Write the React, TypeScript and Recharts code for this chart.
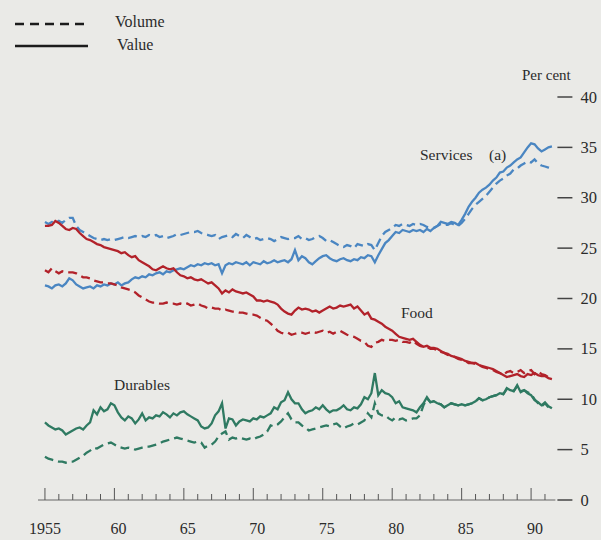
import React from 'react';
import { LineChart, Line, XAxis, YAxis } from 'recharts';

// quarterly shares of consumers' expenditure, 1955 Q1 onwards
const startYear = 1955;

const servicesValue = [
  21.3, 21.2, 21.0, 21.3, 21.4, 21.2, 21.5, 22.0, 21.8, 21.4, 21.2, 21.0,
  21.1, 21.2, 21.0, 21.3, 21.2, 21.4, 21.3, 21.5, 21.4, 21.6, 21.3, 21.5,
  21.6, 21.9, 22.1, 22.0, 22.2, 22.1, 22.4, 22.3, 22.5, 22.6, 22.4, 22.7,
  22.6, 22.8, 22.9, 23.0, 22.9, 23.1, 23.3, 23.2, 23.4, 23.3, 23.5, 23.4,
  23.5, 23.3, 23.4, 22.5, 23.3, 23.5, 23.4, 23.6, 23.5, 23.4, 23.6, 23.3,
  23.6, 23.5, 23.4, 23.7, 23.5, 23.6, 23.8, 23.6, 23.7, 23.8, 23.6, 23.9,
  24.8, 23.8, 24.2, 24.0, 23.6, 23.4, 23.7, 24.0, 24.2, 24.3, 24.0, 23.8,
  23.7, 23.9, 24.0, 23.8, 23.7, 23.9, 23.8, 24.1, 24.0, 24.3, 24.2, 23.6,
  24.3, 24.9, 25.5, 25.8, 26.2, 26.6, 26.5, 26.8, 26.7, 26.6, 26.8, 26.7,
  26.8, 26.6, 26.9, 26.7, 27.0, 27.2, 27.6, 27.5, 27.4, 27.6, 27.5, 27.3,
  27.8, 28.4, 29.1, 29.6, 30.0, 30.5, 30.8, 31.0, 31.3, 31.7, 32.0, 32.5,
  32.6, 33.0, 33.2, 33.5, 33.8, 34.0, 34.5, 35.0, 35.4, 35.3, 34.9, 34.6,
  34.8, 35.0, 35.1,
];

const servicesVolume = [
  27.6, 27.4, 27.6, 27.5, 27.7, 27.5, 27.8, 28.0, 28.0, 27.2, 26.8, 26.6,
  26.4, 26.2, 26.0, 25.9, 25.8, 25.9, 25.8, 25.9, 25.8, 25.9, 26.0, 26.1,
  26.0, 26.1, 26.2, 26.1, 26.2, 26.1, 26.3, 26.2, 26.3, 26.1, 26.2, 26.0,
  26.1, 26.2, 26.4, 26.3, 26.4, 26.5, 26.6, 26.6, 26.7, 26.5, 26.4, 26.3,
  26.2, 26.3, 25.9, 26.1, 26.2, 26.3, 26.1, 26.4, 26.2, 26.0, 26.3, 26.1,
  25.9, 26.0, 25.8, 25.9, 26.0, 25.9, 25.7, 25.9, 26.1, 26.0, 25.9, 26.0,
  26.0, 26.2, 25.9, 26.0, 25.8, 25.9, 26.1, 26.2, 26.0, 25.7, 25.8, 25.6,
  25.4, 25.2, 25.1, 25.3, 25.2, 25.0, 25.4, 25.3, 25.2, 25.4, 25.3, 24.8,
  25.5, 26.2, 26.6, 26.8, 27.0, 27.3, 27.2, 27.4, 27.3, 27.2, 27.4, 27.3,
  27.4, 27.3, 27.1, 27.0, 27.0, 27.2, 27.4, 27.3, 27.3, 27.5, 27.3, 27.2,
  27.5, 27.9, 28.4, 28.9, 29.3, 29.6, 29.9, 30.2, 30.6, 31.0, 31.4, 31.7,
  31.9, 32.2, 32.4, 32.8, 32.9, 33.2, 33.4, 33.6, 33.5, 33.8, 33.4, 33.2,
  33.1, 33.0, 32.9,
];

const foodValue = [
  27.2, 27.2, 27.3, 27.7, 27.5, 27.2, 26.9, 26.8, 27.0, 26.9, 26.5, 26.2,
  25.9, 25.8, 25.6, 25.4, 25.3, 25.1, 25.0, 24.9, 24.8, 24.7, 24.5, 24.6,
  24.3, 24.1, 24.2, 23.8, 23.6, 23.4, 23.2, 22.9, 22.8, 23.0, 23.2, 23.0,
  22.9, 23.0, 22.6, 22.3, 22.2, 22.0, 22.1, 21.9, 21.8, 21.9, 21.7, 21.5,
  21.6, 21.3, 21.0, 20.5, 20.8, 20.6, 20.9, 20.7, 20.6, 20.5, 20.6, 20.4,
  20.2, 19.8, 19.8, 19.7, 19.8, 19.7, 19.6, 19.4, 19.0, 18.7, 18.5, 18.4,
  18.8, 19.1, 18.9, 19.0, 18.9, 18.7, 18.8, 18.6, 18.8, 19.0, 19.2, 19.0,
  19.1, 19.3, 19.2, 19.3, 19.4, 19.0, 19.2, 18.8, 18.4, 18.6, 18.0, 17.9,
  17.7, 17.5, 17.2, 17.0, 16.8, 16.5, 16.2, 16.1, 16.0, 15.9, 16.0, 15.7,
  15.4, 15.2, 15.3, 15.1, 15.1, 15.0, 14.8, 14.6, 14.5, 14.3, 14.2, 14.1,
  14.0, 13.8, 13.7, 13.6, 13.6, 13.4, 13.3, 13.2, 13.1, 13.0, 12.8, 12.6,
  12.4, 12.2, 12.3, 12.4, 12.5, 12.3, 12.2, 12.5, 12.4, 12.6, 12.4, 12.3,
  12.3, 12.1, 12.0,
];

const foodVolume = [
  22.8, 22.6, 23.0, 22.7, 22.5, 22.7, 22.6, 22.6, 22.6, 22.5, 22.3, 22.1,
  22.1, 22.0, 21.8, 21.7, 21.6, 21.6, 21.5, 21.5, 21.4, 21.3, 21.1, 21.0,
  20.9, 20.8, 20.6, 20.3, 20.1, 19.9, 19.7, 19.6, 19.6, 19.5, 19.5, 19.6,
  19.5, 19.5, 19.4, 19.5, 19.4, 19.5, 19.3, 19.4, 19.5, 19.3, 19.2, 19.0,
  19.1, 19.0, 19.0, 18.8, 18.9, 18.8, 18.7, 18.7, 18.6, 18.6, 18.5, 18.4,
  18.4, 18.3, 18.1, 17.9, 17.8, 17.5, 17.2, 16.8, 16.6, 16.5, 16.6, 16.4,
  16.5, 16.6, 16.6, 16.5, 16.6, 16.7, 16.6, 16.7, 16.8, 16.6, 16.7, 16.5,
  16.7, 16.8, 16.6, 16.4, 16.3, 16.2, 16.0, 15.8, 15.7, 15.3, 15.2, 15.6,
  15.7, 15.9, 15.8, 15.9, 15.9, 15.8, 15.9, 15.7, 15.7, 15.6, 15.8, 15.5,
  15.3, 15.2, 15.2, 15.0, 15.0, 14.9, 14.7, 14.6, 14.4, 14.3, 14.2, 14.0,
  13.9, 13.8, 13.6, 13.6, 13.5, 13.4, 13.2, 13.1, 13.0, 12.9, 12.7, 12.6,
  12.4, 12.7, 12.8, 12.6, 12.7, 12.9, 12.6, 12.8, 12.9, 12.5, 12.8, 12.5,
  12.4, 12.2, 12.1,
];

const durablesValue = [
  7.7, 7.4, 7.2, 7.0, 7.1, 6.9, 6.5, 6.7, 6.9, 7.1, 7.2, 7.0,
  7.4, 7.7, 8.9, 8.5, 9.2, 8.8, 9.0, 9.6, 9.4, 8.7, 8.2, 7.9,
  8.3, 8.1, 7.6, 8.0, 8.6, 7.9, 8.2, 8.1, 8.4, 8.3, 8.7, 8.5,
  8.2, 8.6, 8.4, 8.7, 8.8, 8.5, 8.3, 8.1, 7.9, 7.3, 7.1, 7.2,
  7.6, 8.4, 8.8, 9.6, 7.1, 8.1, 8.0, 7.4, 7.8, 8.0, 7.9, 7.8,
  8.1, 8.0, 8.3, 8.2, 8.4, 8.6, 9.2, 9.0, 9.7, 9.9, 10.7, 10.0,
  9.6, 9.6, 9.0, 8.6, 8.8, 8.9, 9.2, 9.0, 9.4, 9.0, 8.7, 8.9,
  8.9, 9.1, 9.4, 9.0, 8.9, 9.2, 9.1, 9.5, 10.2, 10.0, 10.6, 12.6,
  10.4, 10.9, 10.6, 10.5, 10.2, 9.6, 9.8, 9.2, 9.1, 9.0, 8.9, 8.7,
  9.2, 9.6, 10.2, 9.7, 9.8, 9.6, 9.5, 9.2, 9.4, 9.6, 9.5, 9.4,
  9.5, 9.4, 9.5, 9.6, 9.8, 10.1, 9.9, 10.0, 10.2, 10.3, 10.4, 10.6,
  10.5, 11.1, 10.9, 10.8, 11.4, 10.7, 10.9, 10.6, 10.4, 9.9, 9.7, 9.4,
  9.7, 9.3, 9.1,
];

const durablesVolume = [
  4.3, 4.1, 4.0, 3.9, 3.8, 3.8, 3.7, 3.8, 3.8, 4.0, 4.2, 4.4,
  4.7, 4.9, 5.2, 5.1, 5.3, 5.5, 5.6, 5.7, 5.5, 5.3, 5.2, 5.1,
  5.2, 5.1, 5.0, 5.1, 5.2, 5.3, 5.3, 5.4, 5.5, 5.6, 5.8, 5.9,
  6.0, 6.1, 6.2, 6.1, 6.0, 5.9, 5.8, 5.7, 5.8, 5.7, 5.2, 5.4,
  5.5, 5.8, 6.3, 6.6, 6.8, 6.0, 6.2, 6.1, 6.2, 6.1, 6.0, 6.1,
  6.0, 6.2, 6.3, 6.5, 6.8, 7.4, 7.3, 7.5, 7.8, 8.2, 8.6, 8.0,
  7.7, 7.7, 7.4, 7.2, 6.9, 7.0, 7.1, 7.2, 7.3, 7.4, 7.3, 7.5,
  7.6, 7.3, 7.1, 7.3, 7.4, 7.6, 7.5, 7.7, 7.9, 8.6, 8.2, 9.6,
  8.6, 8.4, 8.4, 8.1, 7.9, 8.2, 8.0, 8.1, 7.9, 8.0, 8.1, 8.1,
  8.4, 9.4, 10.1, 9.7, 9.8, 9.6, 9.5, 9.2, 9.4, 9.6, 9.5, 9.4,
  9.5, 9.4, 9.5, 9.6, 9.8, 10.1, 9.9, 10.0, 10.2, 10.3, 10.4, 10.6,
  10.5, 11.0, 10.9, 10.8, 11.3, 10.8, 10.9, 10.7, 10.5, 10.0, 9.6, 9.3,
  9.6, 9.2, 9.0,
];

const yearTicks = [
  1955, 1956, 1957, 1958, 1959, 1960, 1961, 1962, 1963, 1964, 1965, 1966, 1967,
  1968, 1969, 1970, 1971, 1972, 1973, 1974, 1975, 1976, 1977, 1978, 1979, 1980,
  1981, 1982, 1983, 1984, 1985, 1986, 1987, 1988, 1989, 1990, 1991,
];
const percentTicks = [0, 5, 10, 15, 20, 25, 30, 35, 40];

const data = servicesValue.map((v, i) => ({
  t: startYear + i / 4,
  servicesValue: v,
  servicesVolume: servicesVolume[i],
  foodValue: foodValue[i],
  foodVolume: foodVolume[i],
  durablesValue: durablesValue[i],
  durablesVolume: durablesVolume[i],
}));

const BG = '#eaeae7';
const INK = '#2b2b2b';
const FONT = '"Liberation Serif", "DejaVu Serif", serif';
const BLUE = '#4a86c2';
const RED = '#b2222a';
const GREEN = '#2f7a62';
const LW = 2.3;
const DASH = '9 5';

const XTick = (props: any) => {
  const { x, y, payload } = props;
  const yr = payload.value;
  const major = yr % 5 === 0;
  const label = yr === 1955 ? '1955' : String(yr).slice(2);
  return (
    <g>
      <line x1={x} x2={x} y1={y} y2={y - (major ? 12 : 6)} stroke="#555" strokeWidth={1} />
      {major && (
        <text x={yr === 1955 ? x : x + 4} y={y + 34} textAnchor="middle" fill={INK} fontSize={16} fontFamily={FONT}>
          {label}
        </text>
      )}
    </g>
  );
};

const LeftTick = (props: any) => {
  const { x, y } = props;
  return <line x1={x - 20} x2={x - 6} y1={y} y2={y} stroke="#444" strokeWidth={1.5} />;
};

const RightTick = (props: any) => {
  const { x, y, payload } = props;
  return (
    <g>
      <line x1={x + 2} x2={x + 17} y1={y} y2={y} stroke="#444" strokeWidth={1.5} />
      <text x={x + 25} y={y + 5.5} textAnchor="start" fill={INK} fontSize={16.5} fontFamily={FONT}>
        {payload.value}
      </text>
    </g>
  );
};

const App = () => {
  return (
    <div style={{ position: 'fixed', left: 0, top: 0, width: 601, height: 540, background: BG }}>
      <LineChart width={601} height={540} data={data} margin={{ top: 97, right: 5.6, left: 18, bottom: 0 }}>
        <XAxis
          dataKey="t"
          type="number"
          domain={[1954.5, 1991.75]}
          ticks={yearTicks}
          interval={0}
          height={40}
          axisLine={{ stroke: '#666', strokeWidth: 1 }}
          tickLine={false}
          tickSize={0}
          tickMargin={0}
          tick={<XTick />}
        />
        <YAxis
          yAxisId="left"
          orientation="left"
          width={20}
          domain={[0, 40]}
          ticks={percentTicks}
          interval={0}
          axisLine={false}
          tickLine={false}
          tickSize={0}
          tickMargin={0}
          tick={<LeftTick />}
        />
        <YAxis
          yAxisId="right"
          orientation="right"
          width={40}
          domain={[0, 40]}
          ticks={percentTicks}
          interval={0}
          axisLine={false}
          tickLine={false}
          tickSize={0}
          tickMargin={0}
          tick={<RightTick />}
        />
        <Line yAxisId="right" dataKey="servicesVolume" stroke={BLUE} strokeWidth={LW} strokeDasharray={DASH} dot={false} isAnimationActive={false} />
        <Line yAxisId="right" dataKey="servicesValue" stroke={BLUE} strokeWidth={LW} dot={false} isAnimationActive={false} />
        <Line yAxisId="right" dataKey="foodVolume" stroke={RED} strokeWidth={LW} strokeDasharray={DASH} dot={false} isAnimationActive={false} />
        <Line yAxisId="right" dataKey="foodValue" stroke={RED} strokeWidth={LW} dot={false} isAnimationActive={false} />
        <Line yAxisId="right" dataKey="durablesVolume" stroke={GREEN} strokeWidth={LW} strokeDasharray={DASH} dot={false} isAnimationActive={false} />
        <Line yAxisId="right" dataKey="durablesValue" stroke={GREEN} strokeWidth={LW} dot={false} isAnimationActive={false} />
      </LineChart>

      {/* legend and labels */}
      <svg width={601} height={540} style={{ position: 'absolute', left: 0, top: 0, pointerEvents: 'none' }}>
        <line x1={15} x2={88} y1={24} y2={24} stroke="#1c1c1c" strokeWidth={2.5} strokeDasharray="9 6" />
        <text x={115} y={27} fill={INK} fontSize={16} fontFamily={FONT}>Volume</text>
        <line x1={15} x2={88} y1={46} y2={46} stroke="#1c1c1c" strokeWidth={2.5} />
        <text x={117} y={50} fill={INK} fontSize={16} fontFamily={FONT}>Value</text>
        <text x={522} y={80} fill={INK} fontSize={15} fontFamily={FONT}>Per cent</text>
        <text x={420} y={160} fill={INK} fontSize={15.5} fontFamily={FONT}>Services</text>
        <text x={489} y={160} fill={INK} fontSize={15.5} fontFamily={FONT}>(a)</text>
        <text x={401} y={318} fill={INK} fontSize={15.5} fontFamily={FONT}>Food</text>
        <text x={114} y={390} fill={INK} fontSize={15.5} fontFamily={FONT}>Durables</text>
      </svg>
    </div>
  );
};

export default App;
